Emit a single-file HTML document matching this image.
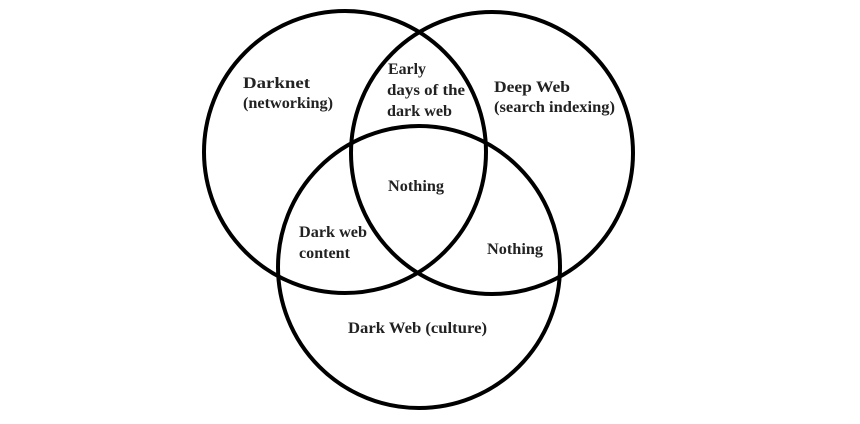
<!DOCTYPE html>
<html><head><meta charset="utf-8"><style>
html,body{margin:0;padding:0;background:#fff;}
svg{display:block;}
text{font-family:"Liberation Serif",serif;font-weight:bold;font-size:15.5px;fill:#222;}
</style></head><body>
<svg width="860" height="424" viewBox="0 0 860 424" xmlns="http://www.w3.org/2000/svg">
<g fill="none" stroke="#000" stroke-width="4">
<circle cx="345" cy="152" r="141"/>
<circle cx="492" cy="153" r="141"/>
<circle cx="419" cy="267" r="141"/>
</g>
<text x="243" y="88" textLength="67" lengthAdjust="spacingAndGlyphs">Darknet</text>
<text x="243" y="108" textLength="90" lengthAdjust="spacingAndGlyphs">(networking)</text>
<text x="388" y="74" textLength="38" lengthAdjust="spacingAndGlyphs">Early</text>
<text x="387" y="95" textLength="78" lengthAdjust="spacingAndGlyphs">days of the</text>
<text x="387" y="116" textLength="65" lengthAdjust="spacingAndGlyphs">dark web</text>
<text x="494" y="92" textLength="76" lengthAdjust="spacingAndGlyphs">Deep Web</text>
<text x="494" y="112" textLength="121" lengthAdjust="spacingAndGlyphs">(search indexing)</text>
<text x="388" y="191" textLength="56" lengthAdjust="spacingAndGlyphs">Nothing</text>
<text x="299" y="237" textLength="68" lengthAdjust="spacingAndGlyphs">Dark web</text>
<text x="299" y="258" textLength="51" lengthAdjust="spacingAndGlyphs">content</text>
<text x="487" y="254" textLength="56" lengthAdjust="spacingAndGlyphs">Nothing</text>
<text x="348" y="333" textLength="139" lengthAdjust="spacingAndGlyphs">Dark Web (culture)</text>
</svg>
</body></html>
